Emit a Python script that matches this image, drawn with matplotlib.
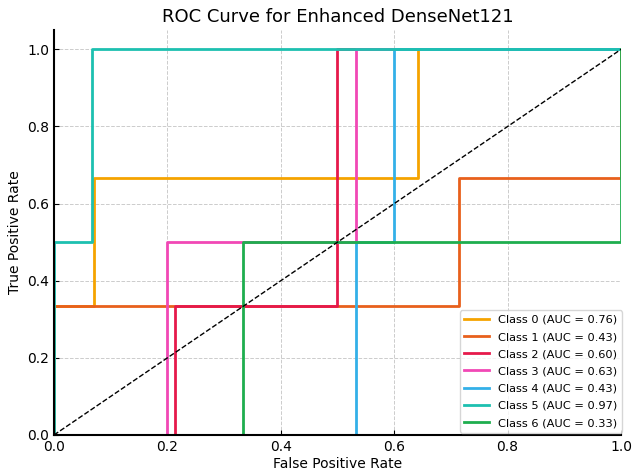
import matplotlib
matplotlib.use("Agg")
import matplotlib.pyplot as plt

labels = ["Class 0", "Class 1", "Class 2", "Class 3", "Class 4", "Class 5", "Class 6"]
aucs = [0.76, 0.43, 0.60, 0.63, 0.43, 0.97, 0.33]
fpr = [
    [0.0, 0.0, 1/14, 1/14, 9/14, 9/14, 1.0],
    [0.0, 0.0, 5/7, 5/7, 1.0, 1.0],
    [0.0, 3/14, 3/14, 0.5, 0.5, 1.0],
    [0.0, 0.2, 0.2, 8/15, 8/15, 1.0],
    [0.0, 8/15, 8/15, 0.6, 0.6, 1.0],
    [0.0, 0.0, 1/15, 1/15, 1.0],
    [0.0, 1/3, 1/3, 1.0, 1.0],
]
tpr = [
    [0.0, 1/3, 1/3, 2/3, 2/3, 1.0, 1.0],
    [0.0, 1/3, 1/3, 2/3, 2/3, 1.0],
    [0.0, 0.0, 1/3, 1/3, 1.0, 1.0],
    [0.0, 0.0, 0.5, 0.5, 1.0, 1.0],
    [0.0, 0.0, 0.5, 0.5, 1.0, 1.0],
    [0.0, 0.5, 0.5, 1.0, 1.0],
    [0.0, 0.0, 0.5, 0.5, 1.0],
]
colors = ["#F5A300", "#E8601C", "#E6194B", "#F148B5", "#33B0E8", "#1DC0B0", "#1EAE4E"]

fig = plt.figure(figsize=(6.32, 4.70), dpi=100)
ax = fig.add_axes([0.0854, 0.0745, 0.8972, 0.8615])
for x, y, c, lab, a in zip(fpr, tpr, colors, labels, aucs):
    ax.plot(x, y, color=c, lw=2, label=f"{lab} (AUC = {a:.2f})")
ax.plot([0, 1], [0, 1], "k--", lw=1)
ax.set_xlim(0, 1)
ax.set_ylim(0, 1.05)
ax.set_xticks([0, 0.2, 0.4, 0.6, 0.8, 1.0])
ax.set_yticks([0, 0.2, 0.4, 0.6, 0.8, 1.0])
ax.grid(True, linestyle="--", color="#cccccc", lw=0.7)
ax.spines["top"].set_visible(False)
ax.spines["right"].set_visible(False)
for s in ("left", "bottom"):
    ax.spines[s].set_linewidth(1.5)
    ax.spines[s].set_zorder(5)
ax.tick_params(direction="in", labelsize=10)
ax.set_xlabel("False Positive Rate", fontsize=10, labelpad=2)
ax.set_ylabel("True Positive Rate", fontsize=10)
ax.set_title("ROC Curve for Enhanced DenseNet121", fontsize=13)
ax.legend(loc="lower right", fontsize=8.2, labelspacing=0.63, handlelength=2.2,
          bbox_to_anchor=(1.002, 0.006), borderaxespad=0)
fig.savefig("out.png", dpi=100)
